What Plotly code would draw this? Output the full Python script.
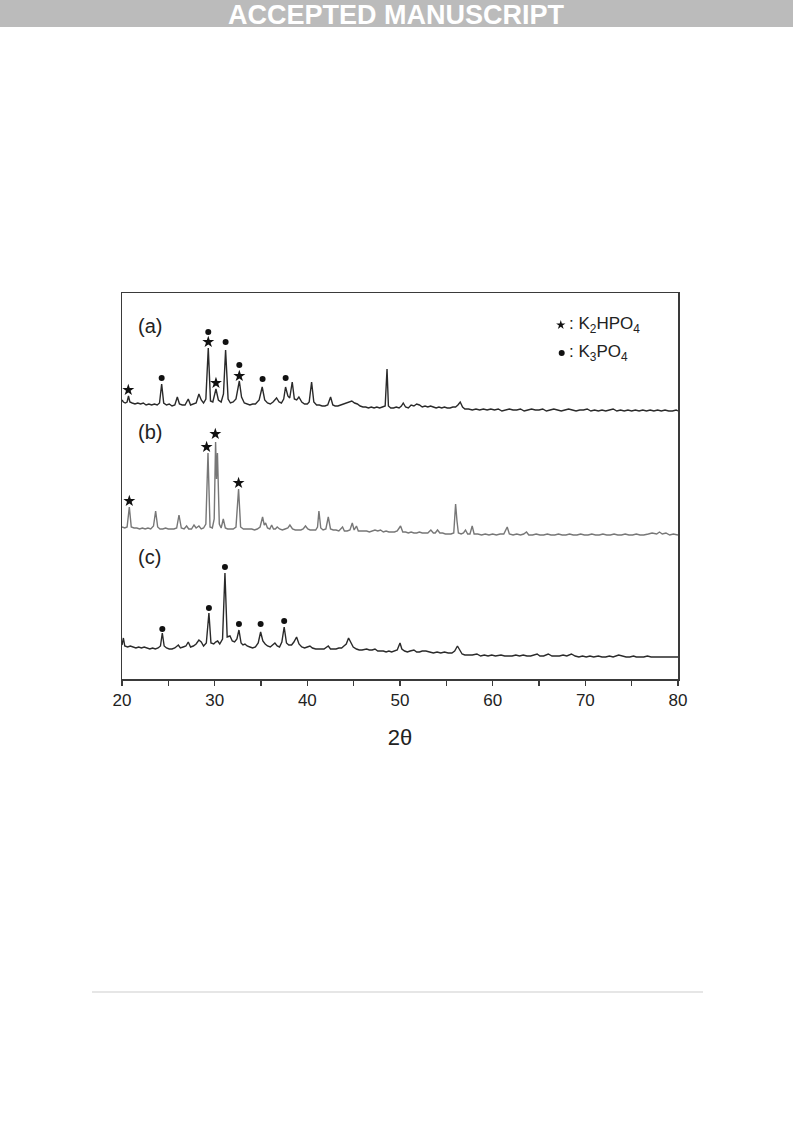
import plotly.graph_objects as go

# ---------------- data (2-theta, intensity in arbitrary units) ----------------
a_x = [20.0, 20.15, 20.35, 20.55, 20.7, 20.85, 21.1, 21.4, 21.7, 22.0, 22.3, 22.6, 22.9, 23.2, 23.5, 23.8,
       24.05, 24.28, 24.5, 24.8, 25.1, 25.4, 25.7, 25.97, 26.2, 26.5, 26.8, 27.15, 27.4, 27.7, 28.0, 28.3,
       28.55, 28.8, 29.05, 29.31, 29.55, 29.8, 30.14, 30.4, 30.7, 30.95, 31.18, 31.45, 31.7, 32.0, 32.3,
       32.66, 32.9, 33.2, 33.5, 33.8, 34.1, 34.4, 34.8, 35.13, 35.4, 35.7, 36.0, 36.3, 36.68, 36.95, 37.2,
       37.45, 37.65, 37.9, 38.1, 38.37, 38.6, 38.85, 39.09, 39.4, 39.7, 40.0, 40.2, 40.46, 40.7, 41.0, 41.3,
       41.6, 41.9, 42.2, 42.51, 42.75, 43.0, 43.3, 43.6, 43.9, 44.2, 44.5, 44.8, 45.1, 45.4, 45.7, 46.0,
       46.3, 46.6, 46.9, 47.2, 47.5, 47.8, 48.1, 48.4, 48.6, 48.75, 49.0, 49.3, 49.6, 49.9, 50.15, 50.35,
       50.6, 50.9, 51.2, 51.5, 51.8, 52.1, 52.4, 52.7, 53.0, 53.3, 53.6, 53.9, 54.2, 54.5, 54.8, 55.1, 55.4,
       55.7, 56.0, 56.25, 56.5, 56.75, 57.0, 57.4, 57.8, 58.2, 58.6, 59.0, 59.4, 59.8, 60.2, 60.6, 61.0,
       61.4, 61.8, 62.2, 62.6, 63.0, 63.4, 63.8, 64.2, 64.6, 65.0, 65.4, 65.8, 66.2, 66.6, 67.0, 67.4, 67.8,
       68.2, 68.6, 69.0, 69.4, 69.8, 70.2, 70.6, 71.0, 71.4, 71.8, 72.2, 72.6, 73.0, 73.4, 73.8, 74.2, 74.6,
       75.0, 75.4, 75.8, 76.2, 76.6, 77.0, 77.4, 77.8, 78.2, 78.6, 79.0, 79.4, 79.8, 80.0]
a_y = [279, 277, 276, 277, 283, 277, 276, 275, 276, 275, 276, 274, 275, 274, 275, 274,
       276, 295, 276, 274, 275, 273, 274, 282, 275, 274, 274, 280, 274, 275, 276, 285,
       279, 276, 280, 331, 278, 277, 290, 279, 277, 285, 329, 280, 276, 277, 280,
       298, 282, 276, 275, 274, 275, 275, 279, 292, 279, 276, 275, 277, 281, 277, 276,
       280, 292, 283, 281, 297, 280, 279, 282, 277, 275, 275, 277, 297, 277, 274, 274,
       273, 273, 274, 282, 274, 273, 273, 274, 275, 276, 277, 278, 276, 275, 273, 272,
       272, 271, 272, 271, 272, 271, 272, 273, 310, 273, 271, 271, 272, 271, 273, 276,
       272, 271, 274, 273, 275, 274, 272, 273, 272, 273, 272, 271, 272, 271, 272, 271, 271,
       272, 272, 274, 277, 272, 270, 270, 269, 270, 269, 270, 269, 270, 269, 270, 268,
       269, 270, 269, 269, 270, 268, 269, 270, 269, 269, 270, 268, 269, 270, 269, 268, 269,
       270, 269, 268, 269, 269, 270, 268, 269, 268, 269, 268, 269, 270, 268, 269, 268, 269,
       268, 269, 268, 269, 268, 269, 268, 269, 268, 269, 268, 268, 269, 268]

b_x = [20.0, 20.3, 20.55, 20.79, 21.0, 21.3, 21.6, 21.9, 22.2, 22.5, 22.8, 23.1, 23.4, 23.63, 23.85, 24.1,
       24.4, 24.7, 25.0, 25.3, 25.6, 25.9, 26.15, 26.4, 26.7, 26.97, 27.2, 27.5, 27.77, 28.0, 28.3, 28.55,
       28.8, 29.05, 29.28, 29.5, 29.75, 29.95, 30.1, 30.2, 30.3, 30.5, 30.7, 30.93, 31.15, 31.4, 31.7, 32.0,
       32.3, 32.58, 32.8, 33.1, 33.4, 33.7, 34.0, 34.3, 34.6, 34.9, 35.17, 35.35, 35.5, 35.7, 35.95, 36.15,
       36.35, 36.55, 36.75, 37.0, 37.3, 37.6, 37.9, 38.12, 38.4, 38.7, 39.0, 39.3, 39.55, 39.8, 40.05, 40.3,
       40.6, 40.9, 41.1, 41.25, 41.45, 41.7, 42.0, 42.26, 42.5, 42.8, 43.1, 43.4, 43.8, 44.0, 44.3, 44.6,
       44.85, 45.05, 45.3, 45.5, 45.8, 46.1, 46.4, 46.7, 47.0, 47.3, 47.6, 47.9, 48.2, 48.5, 48.8, 49.1,
       49.4, 49.7, 50.06, 50.3, 50.6, 50.9, 51.2, 51.5, 51.8, 52.1, 52.4, 52.7, 53.0, 53.33, 53.6, 53.8,
       54.05, 54.3, 54.6, 54.9, 55.2, 55.5, 55.8, 56.0, 56.15, 56.3, 56.6, 56.85, 57.07, 57.3, 57.55, 57.79,
       58.0, 58.4, 58.8, 59.2, 59.6, 60.0, 60.4, 60.8, 61.2, 61.57, 61.8, 62.2, 62.6, 63.0, 63.35, 63.65,
       63.9, 64.3, 64.7, 65.1, 65.5, 65.9, 66.3, 66.7, 67.1, 67.5, 67.9, 68.3, 68.7, 69.1, 69.5, 69.9, 70.3,
       70.7, 71.1, 71.5, 71.9, 72.3, 72.7, 73.1, 73.5, 73.9, 74.3, 74.7, 75.1, 75.5, 75.9, 76.3, 76.8, 77.2,
       77.7, 78.0, 78.3, 78.7, 79.1, 79.5, 80.0]
b_y = [152, 151, 152, 172, 152, 151, 151, 150, 151, 150, 151, 150, 153, 168, 152, 150,
       150, 151, 150, 150, 150, 151, 164, 151, 150, 153, 150, 150, 154, 151, 153, 150,
       151, 155, 226, 152, 151, 160, 237, 200, 226, 155, 151, 160, 151, 150, 150, 150,
       152, 190, 152, 150, 150, 150, 150, 149, 150, 152, 162, 154, 156, 151, 150, 154,
       150, 150, 152, 150, 149, 150, 151, 154, 150, 149, 149, 149, 150, 153, 150, 149,
       149, 149, 152, 168, 151, 149, 150, 162, 150, 149, 149, 148, 152, 148, 148, 149,
       156, 149, 153, 148, 148, 148, 148, 147, 148, 149, 148, 149, 147, 148, 147, 147,
       147, 148, 153, 147, 147, 146, 147, 146, 146, 147, 146, 146, 146, 149, 146, 146,
       149, 146, 146, 145, 145, 145, 146, 175, 158, 146, 145, 146, 149, 145, 145, 153,
       145, 145, 144, 145, 144, 145, 144, 145, 145, 152, 145, 144, 145, 144, 145, 147,
       144, 144, 145, 144, 144, 145, 144, 144, 145, 144, 144, 145, 144, 144, 145, 144, 144,
       145, 144, 144, 145, 144, 144, 145, 144, 144, 145, 144, 144, 145, 144, 144, 145, 146, 145,
       147, 145, 146, 144, 145, 144, 144]

c_x = [20.0, 20.15, 20.3, 20.6, 20.9, 21.2, 21.5, 21.8, 22.1, 22.4, 22.7, 23.0, 23.3, 23.6, 23.9, 24.15,
       24.35, 24.55, 24.8, 25.1, 25.4, 25.7, 26.08, 26.3, 26.6, 26.9, 27.15, 27.4, 27.7, 28.0, 28.3, 28.55,
       28.8, 29.1, 29.38, 29.6, 29.9, 30.1, 30.32, 30.55, 30.85, 31.11, 31.35, 31.65, 31.9, 32.15, 32.4,
       32.62, 32.85, 33.05, 33.27, 33.5, 33.8, 34.1, 34.4, 34.7, 34.96, 35.2, 35.45, 35.7, 36.0, 36.25, 36.5,
       36.75, 37.0, 37.25, 37.5, 37.75, 38.0, 38.3, 38.55, 38.84, 39.1, 39.4, 39.7, 40.0, 40.28, 40.55, 40.9,
       41.2, 41.5, 41.8, 42.26, 42.5, 42.8, 43.1, 43.4, 43.7, 43.95, 44.2, 44.45, 44.7, 44.95, 45.3, 45.6,
       45.9, 46.2, 46.4, 46.7, 47.0, 47.3, 47.6, 47.9, 48.2, 48.5, 48.8, 49.1, 49.4, 49.7, 50.0, 50.2, 50.5,
       50.8, 51.1, 51.5, 51.8, 52.1, 52.4, 52.8, 53.2, 53.6, 54.0, 54.4, 54.8, 55.2, 55.6, 55.9, 56.2, 56.45,
       56.7, 57.0, 57.4, 57.8, 58.3, 58.7, 59.1, 59.5, 59.9, 60.3, 60.9, 61.3, 61.7, 62.1, 62.5, 62.9, 63.3,
       63.7, 64.1, 64.5, 64.8, 65.1, 65.5, 66.0, 66.4, 66.8, 67.2, 67.6, 68.0, 68.5, 68.9, 69.3, 69.7, 70.1,
       70.5, 70.9, 71.4, 71.8, 72.2, 72.6, 73.0, 73.6, 74.0, 74.4, 74.8, 75.2, 75.5, 75.9, 76.3, 76.7, 77.1,
       77.5, 77.9, 78.3, 78.7, 79.1, 79.5, 80.0]
c_y = [34, 41, 33, 32, 33, 32, 31, 32, 31, 32, 31, 30, 31, 30, 31, 33,
       46, 33, 31, 30, 30, 31, 34, 31, 32, 33, 37, 32, 33, 35, 39, 37,
       33, 36, 66, 36, 35, 37, 38, 35, 40, 106, 42, 43, 38, 37, 40,
       49, 36, 34, 35, 33, 32, 31, 32, 36, 47, 38, 35, 33, 32, 34, 36,
       33, 32, 37, 52, 36, 34, 34, 37, 42, 35, 32, 31, 32, 33, 31, 30,
       30, 30, 30, 33, 30, 30, 30, 31, 31, 33, 35, 41, 36, 32, 30, 29,
       29, 30, 30, 29, 29, 30, 28, 28, 28, 27, 28, 27, 28, 29, 36, 30, 28,
       27, 28, 29, 27, 27, 28, 28, 27, 26, 27, 26, 27, 26, 26, 28, 33, 29,
       25, 24, 24, 24, 25, 23, 24, 23, 24, 23, 24, 23, 23, 23, 24, 23, 24,
       23, 23, 24, 25, 23, 23, 25, 23, 23, 23, 24, 23, 25, 23, 22, 23, 22,
       23, 22, 23, 22, 22, 23, 22, 24, 23, 22, 22, 23, 22, 22, 22, 23, 22,
       22, 22, 22, 22, 22, 22, 22]

# phase markers
a_star_x = [20.68, 29.31, 30.14, 32.66]
a_star_y = [289, 337, 296, 303]
a_dot_x = [24.28, 29.31, 31.18, 32.66, 35.17, 37.66]
a_dot_y = [301, 347, 337, 314, 300, 301]
b_star_x = [20.79, 29.13, 30.07, 32.58]
b_star_y = [178, 232, 245, 196]
c_dot_x = [24.35, 29.38, 31.11, 32.62, 34.96, 37.5]
c_dot_y = [50, 71, 112, 55, 55, 58]

legend_star = (67.35, 354)
legend_dot = (67.45, 326)
legend_texts = [": K<sub>2</sub>HPO<sub>4</sub>", ": K<sub>3</sub>PO<sub>4</sub>"]
panel_labels = ["(a)", "(b)", "(c)"]
panel_label_y = [353, 247, 122]
x_ticks = [20, 30, 40, 50, 60, 70, 80]

# ---------------- figure ----------------
W, H = 793, 1123
L, R, T, B = 122, 678, 293, 679

def px(xp):
    return (xp - L) / (R - L)

def py(yp):
    return (B - yp) / (B - T)

FONT = "Liberation Sans, Arial, sans-serif"
DARK = "#2a2a2a"
GRAY = "#777777"

fig = go.Figure()
fig.add_trace(go.Scatter(x=a_x, y=a_y, mode="lines", line=dict(color=DARK, width=1.4)))
fig.add_trace(go.Scatter(x=b_x, y=b_y, mode="lines", line=dict(color=GRAY, width=1.4)))
fig.add_trace(go.Scatter(x=c_x, y=c_y, mode="lines", line=dict(color=DARK, width=1.4)))

star = dict(symbol="star", size=9, color="#111111", line=dict(width=0))
dot = dict(symbol="circle", size=6, color="#111111", line=dict(width=0))
fig.add_trace(go.Scatter(x=a_star_x, y=a_star_y, mode="markers", marker=star))
fig.add_trace(go.Scatter(x=a_dot_x, y=a_dot_y, mode="markers", marker=dot))
fig.add_trace(go.Scatter(x=b_star_x, y=b_star_y, mode="markers", marker=star))
fig.add_trace(go.Scatter(x=c_dot_x, y=c_dot_y, mode="markers", marker=dot))
fig.add_trace(go.Scatter(x=[legend_star[0]], y=[legend_star[1]], mode="markers",
                         marker=dict(symbol="star", size=7, color="#111111", line=dict(width=0))))
fig.add_trace(go.Scatter(x=[legend_dot[0]], y=[legend_dot[1]], mode="markers",
                         marker=dict(symbol="circle", size=6, color="#111111", line=dict(width=0))))

annotations = []
for lab, yy in zip(panel_labels, panel_label_y):
    annotations.append(dict(x=21.5, y=yy, xref="x", yref="y", text=lab, showarrow=False,
                            xanchor="left", yanchor="middle",
                            font=dict(family=FONT, size=20, color="#222")))
annotations.append(dict(x=68.0, y=legend_star[1], xref="x", yref="y", text=legend_texts[0],
                        showarrow=False, xanchor="left", yanchor="middle",
                        font=dict(family=FONT, size=17, color="#222")))
annotations.append(dict(x=68.0, y=legend_dot[1], xref="x", yref="y", text=legend_texts[1],
                        showarrow=False, xanchor="left", yanchor="middle",
                        font=dict(family=FONT, size=17, color="#222")))
# banner text
annotations.append(dict(x=px(396), y=py(15), xref="paper", yref="paper", text="<b>ACCEPTED MANUSCRIPT</b>",
                        showarrow=False, xanchor="center", yanchor="middle",
                        font=dict(family=FONT, size=27, color="white")))

shapes = [
    dict(type="rect", xref="paper", yref="paper", x0=px(0), x1=px(W), y0=py(27), y1=py(0),
         fillcolor="#bbbbbb", line=dict(width=0), layer="below"),
    dict(type="line", xref="paper", yref="paper", x0=px(92), x1=px(703), y0=py(992), y1=py(992),
         line=dict(color="#e6e6e6", width=2)),
]

fig.update_layout(
    width=W, height=H,
    margin=dict(l=L, r=W - R, t=T, b=H - B, pad=0),
    paper_bgcolor="white", plot_bgcolor="white",
    showlegend=False,
    annotations=annotations,
    shapes=shapes,
    font=dict(family=FONT, color="#222"),
)
fig.update_xaxes(range=[20, 80], showgrid=False, zeroline=False,
                 showline=True, linecolor="#3a3a3a", linewidth=1.5, mirror=True,
                 ticks="outside", ticklen=5, tickwidth=1.2, tickcolor="#3a3a3a",
                 tickvals=x_ticks, ticktext=[str(t) for t in x_ticks],
                 tickfont=dict(family=FONT, size=17, color="#222"),
                 minor=dict(ticks="outside", ticklen=5, tickwidth=1.2, tickcolor="#3a3a3a", dtick=5, tick0=25),
                 title=dict(text="2θ", font=dict(family=FONT, size=22, color="#222"), standoff=20))
fig.update_yaxes(range=[0, 386], showgrid=False, zeroline=False, showticklabels=False,
                 showline=True, linecolor="#3a3a3a", linewidth=1.5, mirror=True, ticks="")

fig.write_html("out.html", config={"displayModeBar": False, "staticPlot": True},
               post_script="document.body.style.margin='0';document.body.style.overflow='hidden';")
